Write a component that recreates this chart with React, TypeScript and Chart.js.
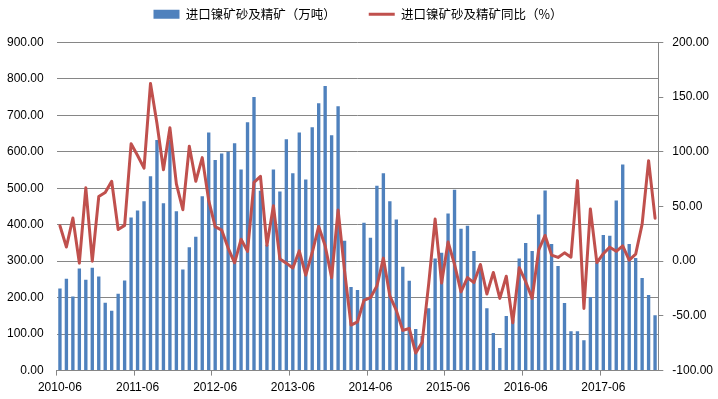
import React, { useEffect, useRef } from "react";
import { Chart, registerables } from "chart.js";

Chart.register(...registerables);

// Monthly categories (2010-06 .. 2018-02)
const months: string[] = [
  "2010-06", "2010-07", "2010-08", "2010-09", "2010-10", "2010-11", "2010-12", "2011-01", "2011-02", "2011-03", "2011-04", "2011-05",
  "2011-06", "2011-07", "2011-08", "2011-09", "2011-10", "2011-11", "2011-12", "2012-01", "2012-02", "2012-03", "2012-04", "2012-05",
  "2012-06", "2012-07", "2012-08", "2012-09", "2012-10", "2012-11", "2012-12", "2013-01", "2013-02", "2013-03", "2013-04", "2013-05",
  "2013-06", "2013-07", "2013-08", "2013-09", "2013-10", "2013-11", "2013-12", "2014-01", "2014-02", "2014-03", "2014-04", "2014-05",
  "2014-06", "2014-07", "2014-08", "2014-09", "2014-10", "2014-11", "2014-12", "2015-01", "2015-02", "2015-03", "2015-04", "2015-05",
  "2015-06", "2015-07", "2015-08", "2015-09", "2015-10", "2015-11", "2015-12", "2016-01", "2016-02", "2016-03", "2016-04", "2016-05",
  "2016-06", "2016-07", "2016-08", "2016-09", "2016-10", "2016-11", "2016-12", "2017-01", "2017-02", "2017-03", "2017-04", "2017-05",
  "2017-06", "2017-07", "2017-08", "2017-09", "2017-10", "2017-11", "2017-12", "2018-01", "2018-02",
];

// Labels shown on the category axis
const tickLabels: string[] = ["2010-06", "2011-06", "2012-06", "2013-06", "2014-06", "2015-06", "2016-06", "2017-06"];

// 进口镍矿砂及精矿（万吨）
const importVolume: number[] = [
  225, 252, 203, 280, 249, 282, 258, 186, 164, 211, 247, 420,
  439, 464, 533, 632, 459, 632, 437, 277, 338, 367, 478, 653,
  577, 595, 600, 623, 551, 681, 750, 493, 345, 551, 491, 634,
  541, 653, 524, 667, 733, 780, 645, 725, 356, 229, 221, 405,
  364, 507, 541, 464, 414, 285, 246, 114, 95, 171, 307, 323,
  431, 496, 389, 397, 328, 290, 171, 103, 62, 150, 140, 307,
  350, 328, 428, 494, 347, 287, 185, 108, 108, 83, 202, 296,
  372, 370, 466, 565, 347, 309, 254, 207, 152,
];

// 进口镍矿砂及精矿同比（%）
const yoyChange: number[] = [
  32.4, 13, 39.4, -1.8, 67, 0, 59, 62.7, 73, 29, 32.7, 107.3,
  96.6, 85, 162.4, 125.7, 83.5, 122, 70.6, 47, 105, 73, 94.6, 55.3,
  31.5, 28.4, 12, -1.5, 20, 9, 72, 77.5, 14.5, 50.7, 2, -1.8,
  -6.2, 9.4, -12.8, 7.9, 31.7, 14, -15, 46.8, -8.9, -58.4, -55.4, -35.8,
  -33.4, -22.7, 2.8, -31.8, -45, -63.3, -61.5, -84, -74, -21, 38.5, -20,
  17.5, -3, -28, -15, -19.6, -3, -30, -10.3, -34, -13.8, -56.3, -6,
  -18.8, -34, 10, 23.5, 5.5, 3.4, 7.6, 3.6, 73.6, -43.2, 47.7, -1.3,
  6.8, 12.8, 9, 14, 1, 6.4, 33.8, 91.8, 39.3,
];

const seriesNames = ["进口镍矿砂及精矿（万吨）", "进口镍矿砂及精矿同比（%）"];

const BAR_COLOR = "#4F81BD";
const LINE_COLOR = "#C0504D";
const GRID_COLOR = "#868686";
const TICK_FONT = { family: "'Liberation Sans', Arial, sans-serif", size: 12 };
const LEGEND_FONT = { family: "'Noto Sans CJK SC', sans-serif", size: 12.5 };

const LEGEND_HEIGHT = 67.3;

const legendFit = {
  id: "legendFit",
  beforeInit(chart: any) {
    const legend = chart.legend;
    if (!legend || legend.__fitPatched) return;
    const orig = legend.fit;
    legend.fit = function () {
      orig.call(this);
      this.height = LEGEND_HEIGHT;
    };
    legend.__fitPatched = true;
  },
};

export default function App() {
  const canvasRef = useRef<HTMLCanvasElement>(null);

  useEffect(() => {
    const canvas = canvasRef.current;
    if (!canvas) return;
    const chart = new Chart(canvas, {
      type: "bar",
      data: {
        labels: months,
        datasets: [
          {
            type: "bar",
            label: seriesNames[0],
            data: importVolume,
            backgroundColor: BAR_COLOR,
            borderWidth: 0,
            yAxisID: "y",
            order: 2,
            categoryPercentage: 1,
            barPercentage: 0.52,
            pointStyle: "rect",
          } as any,
          {
            type: "line",
            label: seriesNames[1],
            data: yoyChange,
            borderColor: LINE_COLOR,
            backgroundColor: LINE_COLOR,
            borderWidth: 3,
            pointRadius: 0,
            pointHoverRadius: 0,
            tension: 0,
            borderJoinStyle: "round",
            borderCapStyle: "round",
            yAxisID: "y1",
            order: 1,
            pointStyle: "line",
          } as any,
        ],
      },
      options: {
        responsive: false,
        maintainAspectRatio: false,
        animation: false,
        layout: { padding: { left: -6, right: -4, top: -25, bottom: -1 } },
        plugins: {
          tooltip: { enabled: false },
          legend: {
            display: true,
            position: "top",
            labels: {
              usePointStyle: true,
              pointStyleWidth: 26,
              boxHeight: 9,
              padding: 33,
              color: "#000000",
              font: LEGEND_FONT,
              sort: (a: any, b: any) => a.datasetIndex - b.datasetIndex,
            },
          },
        },
        scales: {
          x: {
            type: "category",
            offset: true,
            grid: {
              display: true,
              offset: true,
              drawOnChartArea: false,
              drawTicks: true,
              tickLength: 5,
              tickColor: (ctx: any) =>
                ctx.index !== undefined && tickLabels.includes(months[ctx.index]) ? GRID_COLOR : "rgba(0,0,0,0)",
            },
            border: { display: true, color: GRID_COLOR, width: 1 },
            ticks: {
              autoSkip: false,
              maxRotation: 0,
              minRotation: 0,
              padding: 5,
              color: "#000000",
              font: TICK_FONT,
              callback: (_v: any, index: number) => (tickLabels.includes(months[index]) ? months[index] : ""),
            },
          },
          y: {
            position: "left",
            min: 0,
            max: 900,
            grid: { color: GRID_COLOR, lineWidth: 1, drawTicks: false },
            border: { display: false },
            ticks: {
              stepSize: 100,
              padding: 13,
              color: "#000000",
              font: TICK_FONT,
              callback: (v: any) => Number(v).toFixed(2),
            },
          },
          y1: {
            position: "right",
            min: -100,
            max: 200,
            grid: { drawOnChartArea: false, drawTicks: true, tickLength: 5, tickColor: GRID_COLOR },
            border: { display: true, color: GRID_COLOR, width: 1 },
            ticks: {
              stepSize: 50,
              padding: 9,
              color: "#000000",
              font: TICK_FONT,
              callback: (v: any) => Number(v).toFixed(2),
            },
          },
        },
      },
      plugins: [legendFit],
    });
    return () => chart.destroy();
  }, []);

  return (
    <div style={{ position: "fixed", left: 0, top: 0, width: 718, height: 399, background: "#ffffff" }}>
      <canvas ref={canvasRef} width={718} height={399} style={{ display: "block", width: 718, height: 399 }} />
    </div>
  );
}
